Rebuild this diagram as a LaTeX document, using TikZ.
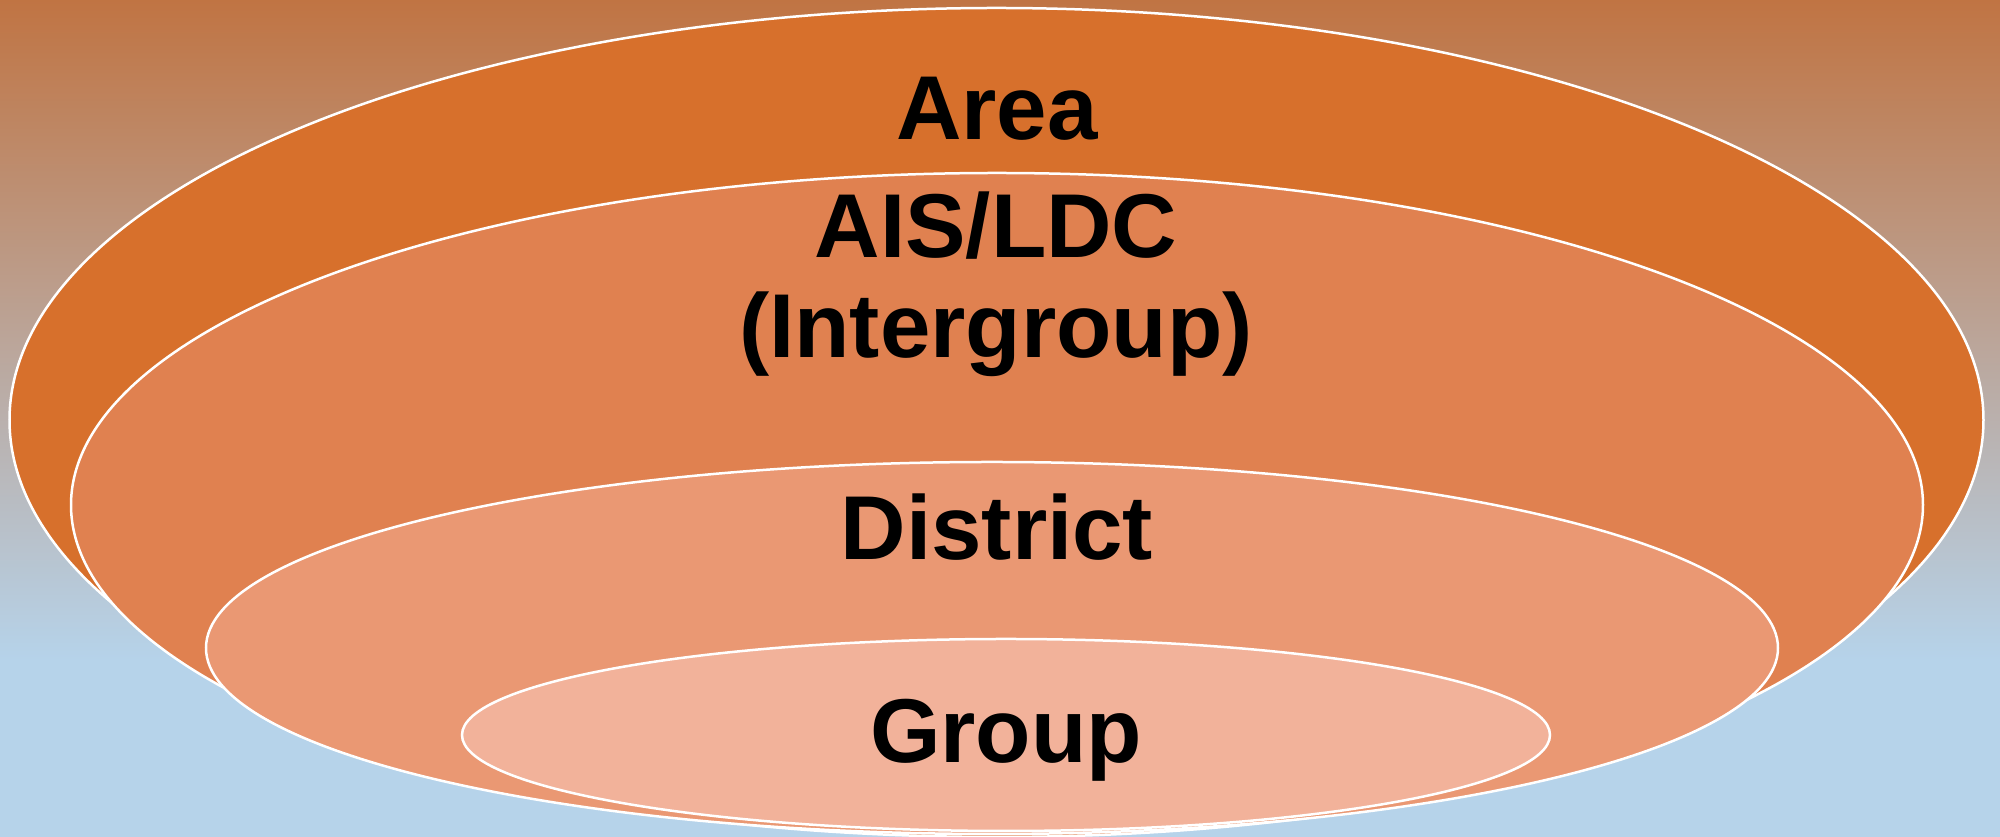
\documentclass[tikz,border=0pt]{standalone}
\usepackage{fontspec}
\setmainfont{Liberation Sans}

\definecolor{bgtop}{HTML}{C07443}
\definecolor{bgbottom}{HTML}{B6D3EA}
\definecolor{areafill}{HTML}{D7702C}
\definecolor{aisfill}{HTML}{E08150}
\definecolor{districtfill}{HTML}{EA9873}
\definecolor{groupfill}{HTML}{F2B29A}

\begin{document}
\begin{tikzpicture}[x=0.1mm, y=0.1mm,
  ring/.style={draw=white, line width=0.25mm},
  levelname/.style={font=\fontsize{25.8}{28.7}\selectfont\bfseries, anchor=base, inner sep=0pt, align=center}]
\useasboundingbox (0,0) rectangle (2000,837);
% Background
\fill[bgbottom] (0,0) rectangle (2000,180);
\fill[top color=bgtop, bottom color=bgbottom] (0,177) rectangle (2000,837);
% Centres of the rings
\coordinate (area) at (996.5,417);
\coordinate (ais) at (997,332);
\coordinate (district) at (992,189);
\coordinate (group) at (1006,102);
% Draw rings, outermost first
\filldraw[ring, fill=areafill] (area) ellipse [x radius=987, y radius=412];
\filldraw[ring, fill=aisfill] (ais) ellipse [x radius=926, y radius=332];
\filldraw[ring, fill=districtfill] (district) ellipse [x radius=786, y radius=186];
\filldraw[ring, fill=groupfill] (group) ellipse [x radius=544, y radius=96];
% Names of the levels (base of a two-line node is its last line)
\node[levelname] (arealabel) at (997,697) {Area};
\node[levelname] (aislabel) at (996,479) {AIS/LDC\\(Intergroup)};
\node[levelname] (districtlabel) at (997,277) {District};
\node[levelname] (grouplabel) at (1006,74) {Group};
\end{tikzpicture}
\end{document}
